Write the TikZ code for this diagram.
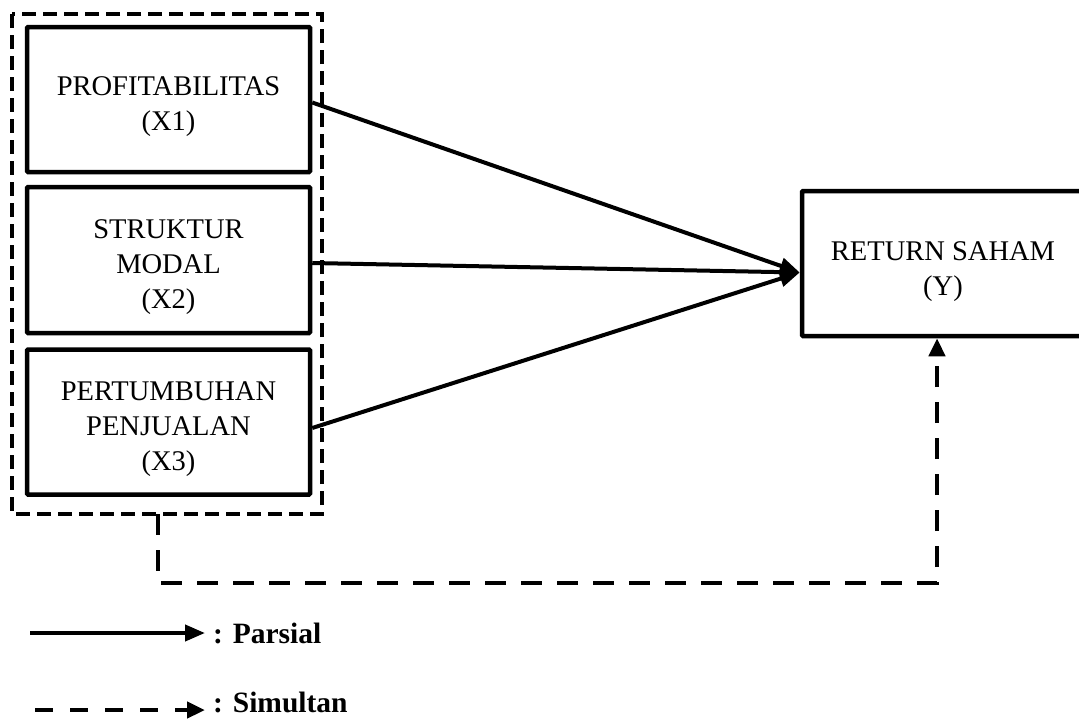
\documentclass[tikz,border=0pt]{standalone}
\usepackage{fontspec}
\setmainfont{Liberation Serif}
\usetikzlibrary{arrows.meta}
\newcommand{\dn}{\rule{0pt}{33pt}}
\begin{document}
\begin{tikzpicture}[x=1pt,y=-1pt,
  varbox/.style={draw,line width=4.5pt,rounded corners=1pt,align=center,inner sep=0pt,
    font=\fontsize{28.5}{35}\selectfont},
  outerbox/.style={draw,line width=4.5pt,dash pattern=on 14pt off 7pt},
  partial/.style={line width=4pt,-{Triangle[length=20pt,width=16pt]}},
  simul/.style={line width=4.5pt,dash pattern=on 21pt off 15pt,-{Triangle[length=18pt,width=16pt]}},
  legtext/.style={anchor=base west,inner sep=0pt,font=\fontsize{29.5}{35}\selectfont\bfseries}]
\useasboundingbox (0,0) rectangle (1079,720);
\fill[white] (0,0) rectangle (1079,720);
\draw[outerbox] (12,14) rectangle (322,514);
\coordinate (ob) at (158,514);
\node[varbox,minimum width=283pt,minimum height=145pt] (x1) at (168.5,99.5) {\dn PROFITABILITAS\\(X1)};
\node[varbox,minimum width=283pt,minimum height=146pt] (x2) at (168.5,260) {\dn STRUKTUR\\MODAL\\(X2)};
\node[varbox,minimum width=283pt,minimum height=145pt] (x3) at (168.5,422) {\dn PERTUMBUHAN\\PENJUALAN\\(X3)};
\node[varbox,minimum width=282pt,minimum height=145pt] (y) at (943,263.5) {\rule{0pt}{35pt}RETURN SAHAM\\(Y)};
\coordinate (tip) at ([yshift=-9pt]y.west);
\draw[partial] ([yshift=-3pt]x1.east) -- (tip);
\draw[partial] ([yshift=-3pt]x2.east) -- (tip);
\draw[partial] ([yshift=-6pt]x3.east) -- (tip);
\coordinate (c1) at (158,583);
\coordinate (c2) at (937,583);
\draw[simul] (ob) -- (c1) -- (c2) -- (c2 |- y.south);
\node[legtext] (lp) at (213,643) {: Parsial};
\node[legtext] (ls) at (213,712) {: Simultan};
\coordinate (lp0) at (30,633);
\coordinate (ls0) at (35,710);
\coordinate (lp1) at (205,633);
\coordinate (ls1) at (205,710);
\draw[partial] (lp0) -- (lp1);
\draw[simul,dash pattern=on 18pt off 17pt] (ls0) -- (ls1);
\end{tikzpicture}
\end{document}
